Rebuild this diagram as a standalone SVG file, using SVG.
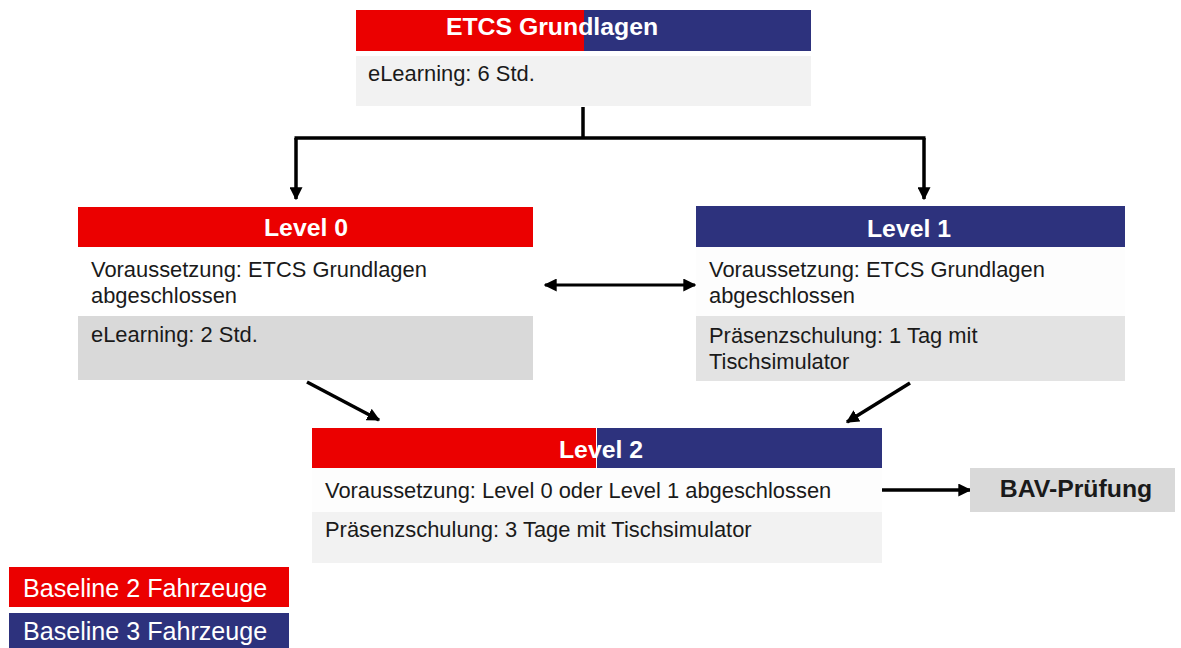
<svg xmlns="http://www.w3.org/2000/svg" width="1181" height="648" viewBox="0 0 1181 648">
<defs>
<style>
.red{fill:#eb0000}
.blue{fill:#2d327d}
.g1{fill:#f2f2f2}
.g2{fill:#d9d9d9}
.g3{fill:#e3e3e3}
.wh{fill:#fdfdfd}
.ht{font-family:"Liberation Sans",Arial,sans-serif;font-weight:bold;font-size:24.8px;fill:#ffffff;text-anchor:middle}
.bt{font-family:"Liberation Sans",Arial,sans-serif;font-size:21.9px;fill:#1a1a1a}
.lt{font-family:"Liberation Sans",Arial,sans-serif;font-size:25.1px;fill:#ffffff}
.ln{fill:none;stroke:#000;stroke-width:3.5}
.ln2{fill:none;stroke:#000;stroke-width:3}
</style>
<marker id="ah" viewBox="0 0 10 10" refX="9" refY="5" markerUnits="userSpaceOnUse" markerWidth="13" markerHeight="13" orient="auto">
<path d="M0,0 L10,5 L0,10 z" fill="#000"/>
</marker>
<marker id="ahs" viewBox="0 0 10 10" refX="1" refY="5" markerUnits="userSpaceOnUse" markerWidth="13" markerHeight="13" orient="auto">
<path d="M10,0 L0,5 L10,10 z" fill="#000"/>
</marker>
</defs>
<rect width="1181" height="648" fill="#ffffff"/>

<g id="connectors">
<path class="ln" d="M583,107 V138 M294.5,138 H925.5"/>
<path class="ln" d="M296,138 V199" marker-end="url(#ah)"/>
<path class="ln" d="M924,138 V199" marker-end="url(#ah)"/>
<path class="ln2" d="M545,285 H695" marker-start="url(#ahs)" marker-end="url(#ah)"/>
<path class="ln" d="M307,382 L379,420" marker-end="url(#ah)"/>
<path class="ln" d="M910,383 L847,422" marker-end="url(#ah)"/>
<path class="ln" d="M877,490 H970" marker-end="url(#ah)"/>
</g>

<g id="etcs-grundlagen">
<rect class="red" x="356" y="10" width="228" height="41"/>
<rect class="blue" x="584" y="10" width="227" height="41"/>
<text class="ht" x="552" y="34.5">ETCS Grundlagen</text>
<rect class="g1" x="356" y="56" width="455" height="50"/>
<text class="bt" x="368" y="81">eLearning: 6 Std.</text>
</g>

<g id="level0">
<rect class="red" x="78" y="207" width="455" height="40"/>
<text class="ht" x="306" y="236">Level 0</text>
<rect fill="#ffffff" x="78" y="247" width="455" height="69"/>
<text class="bt" x="91" y="277">Voraussetzung: ETCS Grundlagen</text>
<text class="bt" x="91" y="303">abgeschlossen</text>
<rect class="g2" x="78" y="316" width="455" height="64"/>
<text class="bt" x="91" y="342">eLearning: 2 Std.</text>
</g>

<g id="level1">
<rect class="blue" x="696" y="206" width="429" height="41"/>
<text class="ht" x="909" y="237">Level 1</text>
<rect class="wh" x="696" y="247" width="429" height="69"/>
<text class="bt" x="709" y="277">Voraussetzung: ETCS Grundlagen</text>
<text class="bt" x="709" y="303">abgeschlossen</text>
<rect class="g3" x="696" y="316" width="429" height="65"/>
<text class="bt" x="709" y="343">Präsenzschulung: 1 Tag mit</text>
<text class="bt" x="709" y="369">Tischsimulator</text>
</g>

<g id="level2">
<rect class="red" x="312" y="428" width="284" height="40"/>
<rect class="blue" x="597" y="428" width="285" height="40"/>
<text class="ht" x="601" y="458">Level 2</text>
<rect class="wh" x="312" y="468" width="570" height="44"/>
<text class="bt" x="325" y="498">Voraussetzung: Level 0 oder Level 1 abgeschlossen</text>
<rect class="g1" x="312" y="512" width="570" height="51"/>
<text class="bt" x="325" y="537">Präsenzschulung: 3 Tage mit Tischsimulator</text>
</g>

<g id="bav-pruefung">
<rect class="g2" x="970" y="468" width="205" height="44"/>
<text class="ht" x="1076" y="497" style="fill:#1a1a1a">BAV-Prüfung</text>
</g>

<g id="legend-baseline2">
<rect class="red" x="9" y="567" width="280" height="40"/>
<text class="lt" x="23" y="597">Baseline 2 Fahrzeuge</text>
</g>
<g id="legend-baseline3">
<rect class="blue" x="9" y="613" width="280" height="40"/>
<text class="lt" x="23" y="640">Baseline 3 Fahrzeuge</text>
</g>
</svg>
